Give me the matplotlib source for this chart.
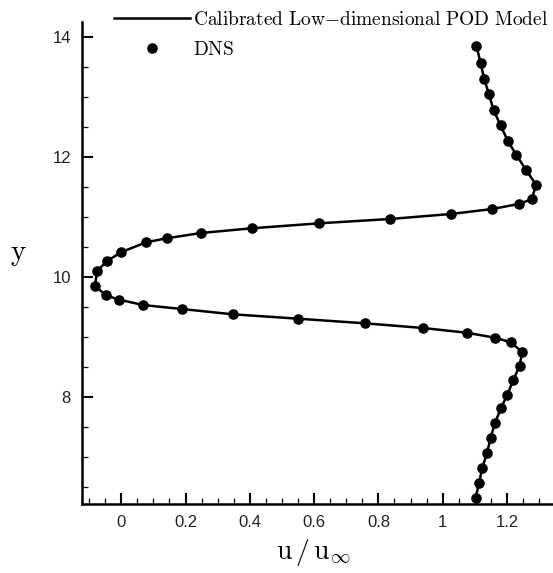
import matplotlib
matplotlib.use('Agg')
import matplotlib.pyplot as plt
from matplotlib.ticker import MultipleLocator

plt.rcParams['mathtext.fontset'] = 'cm'
plt.rcParams['font.family'] = ['Liberation Sans', 'DejaVu Sans']

# DNS profile (top to bottom)
y_dns = [13.845, 13.557, 13.295, 13.04, 12.778, 12.523, 12.267, 12.028, 11.773,
         11.533, 11.29, 11.212, 11.128, 11.045, 10.962, 10.89, 10.807, 10.728,
         10.64, 10.573, 10.41, 10.257, 10.095, 9.85, 9.69, 9.617, 9.528, 9.462,
         9.373, 9.30, 9.223, 9.145, 9.067, 8.983, 8.907, 8.745, 8.512, 8.273,
         8.033, 7.807, 7.557, 7.307, 7.057, 6.807, 6.567, 6.307]
u_dns = [1.105, 1.118, 1.129, 1.144, 1.158, 1.180, 1.202, 1.229, 1.260,
         1.290, 1.277, 1.236, 1.154, 1.025, 0.836, 0.616, 0.406, 0.247,
         0.141, 0.077, 0.000, -0.045, -0.075, -0.082, -0.048, -0.006, 0.068, 0.188,
         0.348, 0.551, 0.759, 0.939, 1.074, 1.163, 1.212, 1.247, 1.239, 1.219,
         1.201, 1.181, 1.162, 1.149, 1.137, 1.123, 1.113, 1.102]

# calibrated POD model lies on top of the DNS
y_pod = y_dns
u_pod = u_dns

fig = plt.figure(figsize=(5.53, 5.73), dpi=100)
ax = fig.add_axes([82/553, 1 - 504.3/573, 1 - 82/553, (504.3 - 21.7)/573])

line, = ax.plot(u_pod, y_pod, color='black', lw=1.8)
pts, = ax.plot(u_dns, y_dns, 'o', color='black', ms=6.6, mec='black')

ax.set_xlim(-0.122, 1.343)
ax.set_ylim(6.207, 14.25)
ax.xaxis.set_major_locator(MultipleLocator(0.2))
ax.xaxis.set_minor_locator(MultipleLocator(0.05))
ax.yaxis.set_major_locator(MultipleLocator(2))
ax.yaxis.set_minor_locator(MultipleLocator(0.5))
ax.set_xticks([0, 0.2, 0.4, 0.6, 0.8, 1.0, 1.2])
ax.set_xticklabels(['0', '0.2', '0.4', '0.6', '0.8', '1', '1.2'])
ax.set_yticks([8, 10, 12, 14])

for s in ['top', 'right']:
    ax.spines[s].set_visible(False)
for s in ['left', 'bottom']:
    ax.spines[s].set_linewidth(1.8)

ax.tick_params(which='major', direction='in', length=8, width=1.5,
               labelsize=12, pad=8, colors='black', labelcolor='#222222')
ax.tick_params(which='minor', direction='in', length=4.3, width=0.9)
line.set_clip_on(False)
pts.set_clip_on(False)

ax.set_xlabel(r'$\mathrm{u}\,/\,\mathrm{u}_{\infty}$', fontsize=20)
ax.xaxis.set_label_coords(0.49, -0.068)
ax.set_ylabel(r'$\mathrm{y}$', fontsize=21, rotation=0)
ax.yaxis.set_label_coords(-0.136, 0.49)

fig.legend([line, pts],
           [r'$\mathrm{Calibrated\ Low{-}dimensional\ POD\ Model}$', r'$\mathrm{DNS}$'],
           loc='upper left', bbox_to_anchor=(112/553, 1 - 9/573), frameon=False,
           fontsize=14, handlelength=3.9, handletextpad=0.15, labelspacing=0.6,
           borderpad=0.1, borderaxespad=0.0)

fig.savefig('out.png', dpi=100)
